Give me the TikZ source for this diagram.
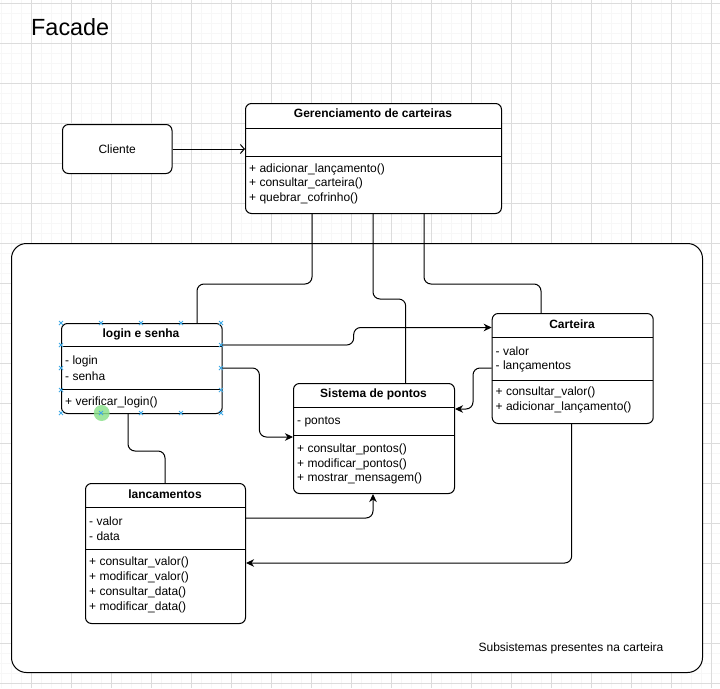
\documentclass[tikz,border=0pt]{standalone}
\usepackage{fontspec}
\setmainfont{Liberation Sans}
\usetikzlibrary{arrows.meta}
\definecolor{gridminor}{HTML}{F7F7F7}
\definecolor{gridmajor}{HTML}{DCDCDC}
\definecolor{handle}{HTML}{3FA9E6}
\definecolor{hover}{HTML}{8EE28E}
\definecolor{selline}{HTML}{808080}

\begin{document}
\begin{tikzpicture}[x=1pt,y=-1pt,
  txt/.style={font=\fontsize{12}{14}\selectfont, inner sep=0pt, anchor=west},
  ttl/.style={font=\fontsize{12}{14}\selectfont\bfseries, inner sep=0pt},
  classbox/.style={draw, line width=1pt, fill=white, rounded corners=6pt, anchor=north west, inner sep=0pt},
  divider/.style={line width=1pt},
  conn/.style={line width=1pt, rounded corners=7pt},
  solidtip/.style={conn, -{Stealth[length=8pt,width=7.5pt,inset=2.5pt]}},
  opentip/.style={conn, -{Straight Barb[length=4pt,width=9pt]}},
  handlex/.style={draw=handle, line width=0.8pt}]

% canvas and grid
\fill[white] (0,0) rectangle (720,688);
\useasboundingbox (0,0) rectangle (720,688);
\foreach \i in {0,...,72} {
  \draw[gridminor, line width=0.7pt] ({1.667+\i*10},0) -- ++(0,688);
}
\foreach \i in {0,...,69} {
  \draw[gridminor, line width=0.7pt] (0,{3.333+\i*10}) -- ++(720,0);
}
\foreach \i in {0,...,18} {
  \draw[gridmajor, line width=0.7pt] ({31.667+\i*40},0) -- ++(0,688);
  \draw[gridmajor, line width=0.7pt] (0,{3.333+\i*40}) -- ++(720,0);
}

% title
\node[anchor=west, inner sep=0pt, font=\fontsize{23.4}{28}\selectfont] (title) at (31,27) {Facade};

% subsystem container
\node[draw, line width=1pt, fill=white, rounded corners=15pt, anchor=north west, inner sep=0pt,
      minimum width=691pt, minimum height=429pt] (cont) at (11,243) {};
\node[font=\fontsize{12}{14}\selectfont, inner sep=0pt] (contlbl) at (571,648) {Subsistemas presentes na carteira};

% client
\node[classbox, minimum width=109.5pt, minimum height=49pt] (cli) at (62,124) {};
\node[font=\fontsize{12}{14}\selectfont, inner sep=0pt] (clit) at (cli.center) {Cliente};

% facade class
\node[classbox, minimum width=256pt, minimum height=110pt] (ger) at (245,103) {};
\node[ttl] (gert) at (373,113.5) {Gerenciamento de carteiras};
\draw[divider] (245,128) -- (501,128);
\draw[divider] (245,156) -- (501,156);
\node[txt] (germ1) at (249,169) {+ adicionar\_lançamento()};
\node[txt] (germ2) at (249,183.5) {+ consultar\_carteira()};
\node[txt] (germ3) at (249,198) {+ quebrar\_cofrinho()};

% login e senha
\node[classbox, minimum width=160.7pt, minimum height=90pt] (log) at (61,323) {};
\node[ttl] (logt) at (141,334) {login e senha};
\draw[divider] (61,346.7) -- (221.7,346.7);
\draw[divider] (61,389) -- (221.7,389);
\node[txt] (loga1) at (65,361) {- login};
\node[txt] (loga2) at (65,376) {- senha};
\node[txt] (logm1) at (65,402) {+ verificar\_login()};

% sistema de pontos
\node[classbox, minimum width=161pt, minimum height=110pt] (sis) at (293,383) {};
\node[ttl] (sist) at (373.5,394) {Sistema de pontos};
\draw[divider] (293,407) -- (454,407);
\draw[divider] (293,435) -- (454,435);
\node[txt] (sisa1) at (297,421.5) {- pontos};
\node[txt] (sism1) at (297,449.5) {+ consultar\_pontos()};
\node[txt] (sism2) at (297,464) {+ modificar\_pontos()};
\node[txt] (sism3) at (297,478.5) {+ mostrar\_mensagem()};

% carteira
\node[classbox, minimum width=161pt, minimum height=110pt] (car) at (491.7,313) {};
\node[ttl] (cart) at (572,324) {Carteira};
\draw[divider] (491.7,337) -- (652.7,337);
\draw[divider] (491.7,380) -- (652.7,380);
\node[txt] (cara1) at (495.5,351) {- valor};
\node[txt] (cara2) at (495.5,366) {- lançamentos};
\node[txt] (carm1) at (495.5,392) {+ consultar\_valor()};
\node[txt] (carm2) at (495.5,407) {+ adicionar\_lançamento()};

% lancamentos
\node[classbox, minimum width=160pt, minimum height=140pt] (lan) at (85,483) {};
\node[ttl] (lant) at (165,494) {lancamentos};
\draw[divider] (85,507) -- (245,507);
\draw[divider] (85,549) -- (245,549);
\node[txt] (lana1) at (89,521) {- valor};
\node[txt] (lana2) at (89,536) {- data};
\node[txt] (lanm1) at (89,562) {+ consultar\_valor()};
\node[txt] (lanm2) at (89,577) {+ modificar\_valor()};
\node[txt] (lanm3) at (89,592) {+ consultar\_data()};
\node[txt] (lanm4) at (89,607) {+ modificar\_data()};

% connectors
\draw[opentip] (cli.east) -- (cli.east -| ger.west);
\draw[conn] ([xshift=67pt]ger.south west) -- ++(0,70) -| ([xshift=136pt]log.north west);
\draw[conn] ([xshift=128pt]ger.south west) -- ++(0,85) -| ([xshift=112.7pt]sis.north west);
\draw[conn] ([xshift=179pt]ger.south west) -- ++(0,70) -| ([xshift=49.3pt]car.north west);
\draw[solidtip] ([yshift=-22pt]log.north east) -- ++(131,0) |- ([yshift=-14.5pt]car.north west);
\draw[selline, line width=1.4pt] ([yshift=-22pt]log.north east) -- ++(124,0);
\draw[solidtip] ([yshift=-45pt]log.north east) -- ++(36.7,0) |- ([yshift=-54pt]sis.north west);
\draw[conn] ([xshift=67pt]log.south west) -- ++(0,37) -| ([xshift=80pt]lan.north west);
\draw[solidtip] ([yshift=-55pt]car.north west) -- ++(-18.7,0) |- ([yshift=-26pt]sis.north east);
\draw[solidtip] ([xshift=80pt]car.south west) |- ([yshift=-80pt]lan.north east);
\draw[solidtip] ([yshift=-35pt]lan.north east) -| ([xshift=80pt]sis.south west);

% selection handles on login e senha
\fill[hover, fill opacity=0.85] (101.7,413) circle (8);
\foreach \hx in {61,101,141,181,221} {
  \draw[handlex] (\hx,323) +(-2,-2) -- +(2,2) +(-2,2) -- +(2,-2);
  \draw[handlex] (\hx,413) +(-2,-2) -- +(2,2) +(-2,2) -- +(2,-2);
}
\foreach \hy in {345,368,390} {
  \draw[handlex] (61,\hy) +(-2,-2) -- +(2,2) +(-2,2) -- +(2,-2);
  \draw[handlex] (221,\hy) +(-2,-2) -- +(2,2) +(-2,2) -- +(2,-2);
}
\end{tikzpicture}
\end{document}
